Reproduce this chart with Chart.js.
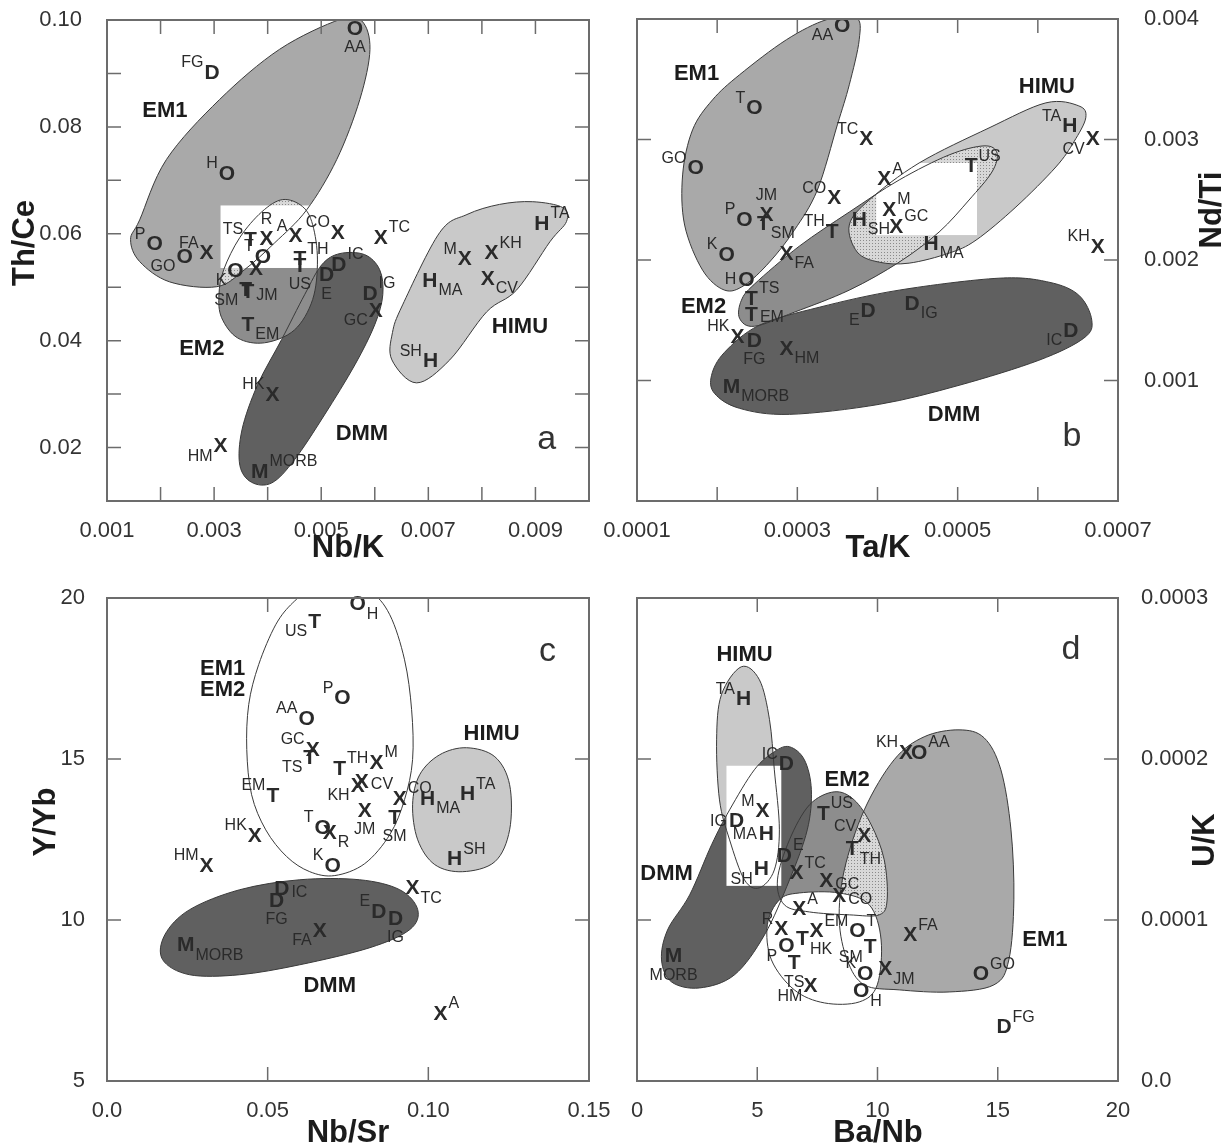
<!DOCTYPE html>
<html>
<head>
<meta charset="utf-8">
<title>Mantle end-member ratio diagrams</title>
<script src="https://cdn.jsdelivr.net/npm/chart.js@4.4.1/dist/chart.umd.min.js"></script>
<style>
  body { margin: 0; background: #fff; }
  #sheet { position: relative; width: 1225px; height: 1145px; }
  #sheet canvas { position: absolute; }
</style>
</head>
<body>
<div id="sheet">
  <canvas id="panelA" width="612" height="575" style="left:0;top:0"></canvas>
  <canvas id="panelB" width="665" height="575" style="left:560px;top:0"></canvas>
  <canvas id="panelC" width="612" height="570" style="left:0;top:575px"></canvas>
  <canvas id="panelD" width="665" height="570" style="left:560px;top:575px"></canvas>
</div>
<script>
// ---- panel a : Th/Ce vs Nb/K ----
const aXTicks = [0.001, 0.003, 0.005, 0.007, 0.009];
const aXLabels = ['0.001', '0.003', '0.005', '0.007', '0.009'];
const aYTicks = [0.02, 0.04, 0.06, 0.08, 0.10];
const aYLabels = ['0.02', '0.04', '0.06', '0.08', '0.10'];
// [marker, locality, Nb/K, Th/Ce]
const aPoints = [
  ['O', 'AA', 0.00563, 0.0986], ['D', 'FG', 0.00296, 0.0904], ['O', 'H', 0.00324, 0.0715],
  ['O', 'P', 0.00189, 0.0583], ['O', 'GO', 0.00245, 0.0559], ['X', 'FA', 0.00286, 0.0566],
  ['T', 'TS', 0.00368, 0.0591], ['X', 'R', 0.00398, 0.0593], ['X', 'A', 0.00452, 0.0598],
  ['O', 'T', 0.00391, 0.0559], ['O', 'K', 0.00340, 0.0533], ['X', '', 0.00378, 0.0536],
  ['T', 'TH', 0.00460, 0.0555], ['T', 'US', 0.00460, 0.0542], ['T', 'SM', 0.00359, 0.0497],
  ['T', 'JM', 0.00363, 0.0493], ['T', 'EM', 0.00363, 0.0433], ['X', 'CO', 0.00531, 0.0604],
  ['D', 'IC', 0.00533, 0.0544], ['D', 'E', 0.00510, 0.0525], ['D', 'IG', 0.00591, 0.0491],
  ['X', 'GC', 0.00602, 0.0458], ['X', 'TC', 0.00611, 0.0595], ['X', 'M', 0.00768, 0.0555],
  ['X', 'KH', 0.00818, 0.0566], ['H', 'TA', 0.00912, 0.0621], ['H', 'MA', 0.00703, 0.0514],
  ['X', 'CV', 0.00811, 0.0518], ['H', 'SH', 0.00704, 0.0364], ['X', 'HK', 0.00409, 0.0302],
  ['X', 'HM', 0.00312, 0.0205], ['M', 'MORB', 0.00385, 0.0158]
];
const aLabelAt = 's nw nw nw sw nw nw n nw nw sw - ne s sw e se nw ne s ne sw ne nw ne ne se se nw nw sw ne'.split(' ');
const aEM1 = [[0.00144, 0.0589], [0.00161, 0.0626], [0.00211, 0.0739], [0.00310, 0.0851], [0.00422, 0.0945],
  [0.00535, 0.1001], [0.00576, 0.0998], [0.00591, 0.0945], [0.00572, 0.0851], [0.00529, 0.0739],
  [0.00473, 0.0645], [0.00413, 0.0583], [0.00357, 0.0533], [0.00305, 0.0501], [0.00217, 0.0510], [0.00161, 0.0548]];
const aEM2 = [[0.00428, 0.0664], [0.00465, 0.0651], [0.00484, 0.0617], [0.00493, 0.0551], [0.00484, 0.0477],
  [0.00450, 0.0420], [0.00394, 0.0396], [0.00344, 0.0405], [0.00314, 0.0443], [0.00309, 0.0486],
  [0.00318, 0.0533], [0.00348, 0.0593], [0.00389, 0.0641]];
const aDMM = [[0.00535, 0.0563], [0.00581, 0.0561], [0.00609, 0.0533], [0.00615, 0.0486], [0.00600, 0.0430],
  [0.00563, 0.0355], [0.00506, 0.0261], [0.00450, 0.0177], [0.00408, 0.0134], [0.00370, 0.0135],
  [0.00348, 0.0167], [0.00352, 0.0233], [0.00381, 0.0317], [0.00426, 0.0402], [0.00469, 0.0486], [0.00501, 0.0542]];
const aHIMU = [[0.00652, 0.0467], [0.00721, 0.0602], [0.00772, 0.0636], [0.00833, 0.0655], [0.00895, 0.0660],
  [0.00951, 0.0649], [0.00958, 0.0623], [0.00927, 0.0585], [0.00865, 0.0495], [0.00809, 0.0454],
  [0.00740, 0.0364], [0.00678, 0.0321], [0.00632, 0.0364], [0.00633, 0.0415]];
const aBox = [0.00312, 0.0536, 0.00492, 0.0653];
const aNotes = [['EM1', 0.00208, 0.0833], ['EM2', 0.00277, 0.0388], ['DMM', 0.00576, 0.0229], ['HIMU', 0.00871, 0.0430]];
const aTag = ['a', 0.00921, 0.0214];

// ---- panel b : Nd/Ti vs Ta/K ----
const bXTicks = [0.0001, 0.0003, 0.0005, 0.0007];
const bXLabels = ['0.0001', '0.0003', '0.0005', '0.0007'];
const bYTicks = [0.001, 0.002, 0.003, 0.004];
const bYLabels = ['0.001', '0.002', '0.003', '0.004'];
const bPoints = [
  ['O', 'AA', 0.000356, 0.003953], ['O', 'T', 0.0002465, 0.003271], ['O', 'GO', 0.0001731, 0.002772],
  ['O', 'P', 0.0002341, 0.002348], ['X', 'JM', 0.0002615, 0.002390], ['T', 'SM', 0.0002577, 0.002315],
  ['O', 'K', 0.0002117, 0.002057], ['O', 'H', 0.0002366, 0.001849], ['X', 'FA', 0.0002864, 0.002066],
  ['X', 'TC', 0.000386, 0.003013], ['X', 'CO', 0.0003461, 0.002523], ['T', 'TH', 0.0003436, 0.002248],
  ['X', 'A', 0.0004084, 0.002681], ['H', 'SH', 0.0003772, 0.002348], ['X', 'M', 0.0004146, 0.002431],
  ['X', 'GC', 0.0004233, 0.00229], ['T', 'US', 0.0005167, 0.002789], ['H', 'TA', 0.0006399, 0.003121],
  ['X', 'CV', 0.0006685, 0.003013], ['H', 'MA', 0.0004669, 0.002149], ['X', 'KH', 0.0006748, 0.002124],
  ['T', 'TS', 0.0002428, 0.001691], ['T', 'EM', 0.0002428, 0.001558], ['X', 'HK', 0.0002254, 0.001376],
  ['D', 'FG', 0.0002465, 0.001342], ['X', 'HM', 0.0002864, 0.001276], ['M', 'MORB', 0.0002179, 0.00096],
  ['D', 'E', 0.0003884, 0.001592], ['D', 'IG', 0.0004432, 0.00165], ['D', 'IC', 0.0006412, 0.001425]
];
const bLabelAt = 'sw nw nw nw n se nw w se nw nw nw ne se ne ne ne nw sw se nw ne e nw s se se sw se sw'.split(' ');
const bEM1 = [[0.0003362, 0.003994], [0.0003735, 0.004011], [0.0003772, 0.003828], [0.0003648, 0.003454],
  [0.0003499, 0.003121], [0.000325, 0.002581], [0.0002963, 0.002248], [0.0002652, 0.001982], [0.0002341, 0.001791],
  [0.0002092, 0.00175], [0.0001818, 0.001916], [0.0001594, 0.00229], [0.0001569, 0.002706], [0.0001693, 0.00308],
  [0.0001942, 0.003329], [0.0002279, 0.003537], [0.0002864, 0.003828]];
const bHIMU = [[0.0003648, 0.00229], [0.0003897, 0.002498], [0.0004519, 0.002805], [0.0005391, 0.003096],
  [0.00061, 0.003304], [0.0006511, 0.003279], [0.0006598, 0.00318], [0.0006449, 0.00298], [0.0006225, 0.002772],
  [0.0005727, 0.00244], [0.0005229, 0.002165], [0.0004893, 0.002057], [0.0004395, 0.001974], [0.0004021, 0.001982],
  [0.0003747, 0.002066]];
const bEM2 = [[0.0002303, 0.001667], [0.0002465, 0.0018], [0.0003025, 0.002115], [0.0003648, 0.002398],
  [0.000427, 0.002664], [0.0004893, 0.002872], [0.0005329, 0.002947], [0.000549, 0.002889], [0.0005428, 0.002731],
  [0.0005142, 0.002498], [0.0004768, 0.002232], [0.000427, 0.001982], [0.0003648, 0.00175], [0.0002963, 0.001567],
  [0.0002465, 0.00145], [0.0002279, 0.001517]];
const bDMM = [[0.000193, 0.001043], [0.0002092, 0.001234], [0.0002527, 0.001459], [0.0003274, 0.001608],
  [0.000427, 0.00175], [0.0005515, 0.001849], [0.0006138, 0.001816], [0.0006511, 0.001708], [0.0006673, 0.0015],
  [0.0006573, 0.001351], [0.0006013, 0.001168], [0.0005017, 0.00096], [0.0004021, 0.000802], [0.0002901, 0.000719],
  [0.0002279, 0.000769], [0.0001967, 0.000893]];
const bBox = [0.0003984, 0.002207, 0.0005241, 0.002805];
const bNotes = [['EM1', 0.0001743, 0.003562], ['HIMU', 0.0006113, 0.003454], ['EM2', 0.000183, 0.001625], ['DMM', 0.0004955, 0.000727]];
const bTag = ['b', 0.0006425, 0.000528];

// ---- panel c : Y/Yb vs Nb/Sr ----
const cXTicks = [0, 0.05, 0.10, 0.15];
const cXLabels = ['0.0', '0.05', '0.10', '0.15'];
const cYTicks = [5, 10, 15, 20];
const cYLabels = ['5', '10', '15', '20'];
const cPoints = [
  ['T', 'US', 0.0646, 19.30], ['O', 'H', 0.0780, 19.85], ['O', 'AA', 0.0621, 16.28], ['O', 'P', 0.0733, 16.93],
  ['X', 'GC', 0.0640, 15.32], ['T', 'TS', 0.0631, 15.07], ['T', 'EM', 0.0516, 13.89], ['T', 'TH', 0.0724, 14.73],
  ['X', 'M', 0.0839, 14.92], ['X', 'CV', 0.0793, 14.33], ['X', 'KH', 0.0780, 14.20], ['X', 'JM', 0.0802, 13.43],
  ['X', 'CO', 0.0911, 13.80], ['T', 'SM', 0.0895, 13.21], ['O', 'T', 0.0671, 12.90], ['X', 'R', 0.0693, 12.74],
  ['O', 'K', 0.0702, 11.72], ['X', 'HK', 0.0460, 12.65], ['X', 'HM', 0.0310, 11.72], ['H', 'MA', 0.0998, 13.80],
  ['H', 'TA', 0.1122, 13.95], ['H', 'SH', 0.1082, 11.93], ['X', 'TC', 0.0951, 11.03], ['D', 'IC', 0.0544, 11.00],
  ['D', 'FG', 0.0528, 10.63], ['D', 'E', 0.0846, 10.29], ['D', 'IG', 0.0898, 10.07], ['X', 'FA', 0.0662, 9.70],
  ['M', 'MORB', 0.0245, 9.26], ['X', 'A', 0.1038, 7.12]
];
const cLabelAt = 'sw se nw nw nw sw nw ne ne e sw s ne s nw se nw nw nw se ne ne se e s nw s sw se ne'.split(' ');
const cEM = [[0.0578, 19.85], [0.0631, 20.20], [0.0724, 20.41], [0.0818, 20.20], [0.0880, 19.48], [0.0926, 18.08],
  [0.0948, 16.53], [0.0951, 14.98], [0.0926, 13.74], [0.0880, 12.65], [0.0802, 11.75], [0.0709, 11.38],
  [0.0631, 11.50], [0.0559, 11.97], [0.0494, 12.80], [0.0450, 13.89], [0.0435, 15.29], [0.0441, 16.69],
  [0.0472, 17.93], [0.0525, 19.17]];
const cHIMU = [[0.1119, 15.35], [0.1207, 15.07], [0.1253, 14.20], [0.1253, 12.80], [0.1207, 11.81], [0.1107, 11.50],
  [0.1020, 11.72], [0.0967, 12.49], [0.0951, 13.58], [0.0973, 14.51], [0.1035, 15.13]];
const cDMM = [[0.0257, 10.32], [0.0413, 10.94], [0.0600, 11.25], [0.0786, 11.25], [0.0911, 10.94], [0.0967, 10.32],
  [0.0942, 9.70], [0.0818, 9.14], [0.0600, 8.61], [0.0413, 8.30], [0.0257, 8.30], [0.0173, 8.77], [0.0180, 9.54]];
const cNotes = [['EM1', 0.0360, 17.87], ['EM2', 0.0360, 17.21], ['HIMU', 0.1197, 15.85], ['DMM', 0.0693, 8.02]];
const cTag = ['c', 0.1371, 18.33];

// ---- panel d : U/K vs Ba/Nb ----
const dXTicks = [0, 5, 10, 15, 20];
const dXLabels = ['0', '5', '10', '15', '20'];
const dYTicks = [0, 0.0001, 0.0002, 0.0003];
const dYLabels = ['0.0', '0.0001', '0.0002', '0.0003'];
const dPoints = [
  ['H', 'TA', 4.43, 0.000238], ['D', 'IC', 6.21, 0.0001976], ['X', 'M', 5.22, 0.0001684], ['D', 'IG', 4.14, 0.0001622],
  ['H', 'MA', 5.38, 0.0001541], ['D', 'E', 6.13, 0.0001405], ['H', 'SH', 5.17, 0.0001324], ['T', 'US', 7.75, 0.0001666],
  ['X', 'CV', 9.45, 0.0001529], ['T', 'TH', 8.95, 0.0001448], ['X', 'TC', 6.63, 0.0001299], ['X', 'GC', 7.87, 0.0001249],
  ['X', 'A', 6.75, 0.0001075], ['X', 'CO', 8.41, 0.0001156], ['X', 'KH', 11.19, 0.0002045], ['O', 'AA', 11.73, 0.0002045],
  ['X', 'R', 6.00, 0.0000951], ['X', 'EM', 7.46, 0.0000938], ['O', 'P', 6.21, 0.0000845], ['T', 'HK', 6.88, 0.0000889],
  ['T', 'TS', 6.54, 0.000074], ['X', 'HM', 7.21, 0.0000597], ['O', 'T', 9.16, 0.0000938], ['T', 'SM', 9.70, 0.0000839],
  ['O', 'K', 9.49, 0.0000677], ['O', 'H', 9.32, 0.0000566], ['X', 'JM', 10.32, 0.0000702], ['X', 'FA', 11.36, 0.0000914],
  ['O', 'GO', 14.30, 0.0000671], ['D', 'FG', 15.26, 0.0000342], ['M', 'MORB', 1.52, 0.0000783]
];
const dLabelAt = 'nw nw nw w w ne sw ne nw se ne e ne e nw ne nw ne sw se s sw ne sw nw se se ne ne ne s'.split(' ');
const dEM1 = [[13.39, 0.0002181], [14.43, 0.0002132], [15.13, 0.0001933], [15.55, 0.000156], [15.67, 0.0001125],
  [15.46, 0.0000752], [14.84, 0.0000597], [12.98, 0.0000553], [10.90, 0.0000566], [9.45, 0.0000597], [8.74, 0.0000752],
  [8.41, 0.0001001], [8.62, 0.0001311], [9.45, 0.0001684], [10.69, 0.0001995], [11.94, 0.0002138]];
const dEM2 = [[8.20, 0.0001796], [9.03, 0.0001746], [9.74, 0.0001591], [10.28, 0.0001374], [10.40, 0.0001125],
  [10.07, 0.0001032], [8.83, 0.0001032], [7.17, 0.000105], [6.13, 0.0001094], [5.84, 0.0001249], [6.34, 0.0001498],
  [7.17, 0.0001715]];
const dHIMU = [[4.34, 0.0002573], [5.09, 0.0002492], [5.51, 0.0002244], [5.71, 0.0001933], [5.92, 0.000156],
  [5.71, 0.0001311], [5.09, 0.00012], [4.47, 0.0001249], [3.85, 0.0001498], [3.43, 0.0001746], [3.31, 0.0002119],
  [3.51, 0.0002399]];
const dDMM = [[6.34, 0.0002076], [6.96, 0.0001995], [7.25, 0.0001809], [7.08, 0.000156], [6.34, 0.0001249],
  [5.30, 0.0000907], [4.05, 0.0000659], [2.60, 0.0000578], [1.44, 0.0000615], [1.02, 0.0000752], [1.27, 0.0000938],
  [2.19, 0.0001156], [3.10, 0.0001467], [3.85, 0.0001684], [4.88, 0.0001933], [5.71, 0.0002045]];
const dWhite = [[6.75, 0.0001168], [8.41, 0.0001168], [9.66, 0.0001094], [10.15, 0.0000876], [9.99, 0.0000597],
  [9.24, 0.0000491], [7.79, 0.0000485], [6.54, 0.0000566], [5.59, 0.0000752], [5.42, 0.000097], [5.92, 0.0001125]];
const dBox = [3.72, 0.0001212, 6.00, 0.0001958];
const dNotes = [['HIMU', 4.47, 0.000266], ['EM2', 8.74, 0.0001883], ['DMM', 1.23, 0.0001299], ['EM1', 16.96, 0.0000889]];
const dTag = ['d', 18.04, 0.000268];

// ---- drawing helpers ----
const FACE = '"Liberation Sans", Arial, sans-serif';
const font = (size, bold) => (bold ? 'bold ' : '') + size + 'px ' + FACE;
Chart.defaults.font.family = FACE;
Chart.defaults.color = '#333';

const GREY = { em1: '#a9a9a9', em2: '#8d8d8d', dmm: '#606060', himu: '#c9c9c9', white: '#ffffff' };

function toPx(chart, pts) {
  const sx = chart.scales.x, sy = chart.scales.y;
  return pts.map(p => [sx.getPixelForValue(p[0]), sy.getPixelForValue(p[1])]);
}

// closed catmull-rom outline through the field vertices
function loop(ctx, chart, pts) {
  const p = toPx(chart, pts);
  const n = p.length;
  ctx.beginPath();
  ctx.moveTo(p[0][0], p[0][1]);
  for (let i = 0; i < n; i++) {
    const p0 = p[(i - 1 + n) % n], p1 = p[i], p2 = p[(i + 1) % n], p3 = p[(i + 2) % n];
    ctx.bezierCurveTo(
      p1[0] + (p2[0] - p0[0]) / 6, p1[1] + (p2[1] - p0[1]) / 6,
      p2[0] - (p3[0] - p1[0]) / 6, p2[1] - (p3[1] - p1[1]) / 6,
      p2[0], p2[1]);
  }
  ctx.closePath();
}

function dotPattern(ctx) {
  const c = document.createElement('canvas');
  c.width = c.height = 3;
  const g = c.getContext('2d');
  g.fillStyle = '#d8d8d8';
  g.fillRect(0, 0, 3, 3);
  g.fillStyle = '#8a8a8a';
  g.fillRect(0, 0, 1, 1);
  return ctx.createPattern(c, 'repeat');
}

function tickText(vals, labels) {
  return v => {
    const i = vals.findIndex(t => Math.abs(t - v) <= Math.abs(t) * 1e-6 + 1e-12);
    return i < 0 ? '' : labels[i];
  };
}

function labelCentre(at, x, y, mw, lw) {
  const g = mw / 2 + 1;
  switch (at) {
    case 'n': return [x, y - 19];
    case 's': return [x, y + 19];
    case 'e': return [x + g + lw / 2 + 1, y + 3];
    case 'w': return [x - g - lw / 2 - 1, y];
    case 'ne': return [x + g + lw / 2, y - 10];
    case 'nw': return [x - g - lw / 2, y - 10];
    case 'se': return [x + g + lw / 2, y + 10];
    default: return [x - g - lw / 2, y + 10];
  }
}

function panel(id, cfg) {
  const fields = {
    id: 'fields',
    beforeDatasetsDraw(chart) {
      const { ctx, chartArea: a } = chart;
      ctx.save();
      ctx.beginPath();
      ctx.rect(a.left, a.top, a.width, a.height);
      ctx.clip();
      for (const op of cfg.layers) {
        if (op.box) {
          const sx = chart.scales.x, sy = chart.scales.y;
          const x0 = sx.getPixelForValue(op.box[0]), y0 = sy.getPixelForValue(op.box[1]);
          const x1 = sx.getPixelForValue(op.box[2]), y1 = sy.getPixelForValue(op.box[3]);
          ctx.fillStyle = '#fff';
          ctx.fillRect(x0, y1, x1 - x0, y0 - y1);
        } else if (op.overlap) {
          ctx.save();
          loop(ctx, chart, op.overlap[0]);
          ctx.clip();
          loop(ctx, chart, op.overlap[1]);
          ctx.fillStyle = dotPattern(ctx);
          ctx.fill();
          ctx.restore();
        } else {
          loop(ctx, chart, op.shape);
          ctx.fillStyle = op.fill;
          ctx.fill();
        }
      }
      ctx.strokeStyle = '#3a3a3a';
      ctx.lineWidth = 1;
      for (const op of cfg.layers) {
        if (!op.shape) continue;
        loop(ctx, chart, op.shape);
        ctx.stroke();
      }
      ctx.restore();
    }
  };

  const marks = {
    id: 'marks',
    afterDatasetsDraw(chart) {
      const { ctx } = chart;
      const sx = chart.scales.x, sy = chart.scales.y;
      const meta = chart.getDatasetMeta(0);
      ctx.save();
      ctx.fillStyle = '#2a2a2a';
      ctx.textAlign = 'center';
      ctx.textBaseline = 'alphabetic';
      meta.data.forEach((el, i) => {
        const [mark, name] = cfg.points[i];
        ctx.font = font(21, true);
        const mw = ctx.measureText(mark).width;
        ctx.fillText(mark, el.x, el.y + 7.5);
        if (!name) return;
        ctx.font = font(16);
        const lw = ctx.measureText(name).width;
        const [lx, ly] = labelCentre(cfg.labelAt[i], el.x, el.y, mw, lw);
        ctx.fillText(name, lx, ly + 5.7);
      });
      ctx.fillStyle = '#1c1c1c';
      ctx.font = font(22, true);
      cfg.notes.forEach(([txt, x, y]) => {
        ctx.fillText(txt, sx.getPixelForValue(x), sy.getPixelForValue(y) + 8);
      });
      ctx.fillStyle = '#333';
      ctx.font = font(34);
      ctx.fillText(cfg.tag[0], sx.getPixelForValue(cfg.tag[1]), sy.getPixelForValue(cfg.tag[2]) + 9);
      ctx.restore();
    }
  };

  const frame = {
    id: 'frame',
    afterDraw(chart) {
      const { ctx, chartArea: a } = chart;
      const sx = chart.scales.x, sy = chart.scales.y;
      ctx.save();
      ctx.strokeStyle = '#6c6c6c';
      ctx.lineWidth = 1.5;
      ctx.beginPath();
      sx.ticks.forEach(t => {
        const p = sx.getPixelForValue(t.value);
        if (p < a.left + 3 || p > a.right - 3) return;
        ctx.moveTo(p, a.bottom); ctx.lineTo(p, a.bottom - 14);
        ctx.moveTo(p, a.top); ctx.lineTo(p, a.top + 14);
      });
      sy.ticks.forEach(t => {
        const p = sy.getPixelForValue(t.value);
        if (p < a.top + 3 || p > a.bottom - 3) return;
        ctx.moveTo(a.left, p); ctx.lineTo(a.left + 14, p);
        ctx.moveTo(a.right, p); ctx.lineTo(a.right - 14, p);
      });
      ctx.stroke();
      ctx.lineWidth = 2;
      ctx.strokeRect(a.left, a.top, a.width, a.height);
      ctx.fillStyle = '#1c1c1c';
      ctx.font = font(31, true);
      ctx.textAlign = 'center';
      ctx.textBaseline = 'middle';
      cfg.titles.forEach(t => {
        ctx.save();
        ctx.translate(t.x, t.y);
        if (t.turn) ctx.rotate(-Math.PI / 2);
        ctx.fillText(t.text, 0, 0);
        ctx.restore();
      });
      ctx.restore();
    }
  };

  return new Chart(document.getElementById(id), {
    type: 'scatter',
    data: {
      datasets: [{
        data: cfg.points.map(p => ({ x: p[2], y: p[3] })),
        pointRadius: 0,
        pointHoverRadius: 0
      }]
    },
    options: {
      responsive: false,
      animation: false,
      events: [],
      layout: { padding: cfg.padding },
      plugins: { legend: { display: false }, tooltip: { enabled: false } },
      scales: {
        x: {
          type: 'linear', position: 'bottom',
          min: cfg.x.min, max: cfg.x.max,
          grid: { display: false }, border: { display: false },
          ticks: {
            stepSize: cfg.x.step, autoSkip: false, maxRotation: 0, padding: 9,
            font: { size: 22 }, color: '#333',
            callback: tickText(cfg.x.ticks, cfg.x.labels)
          },
          afterFit: s => { s.height = cfg.x.band; s.paddingLeft = 0; s.paddingRight = 0; }
        },
        y: {
          type: 'linear', position: cfg.y.side,
          min: cfg.y.min, max: cfg.y.max,
          grid: { display: false }, border: { display: false },
          ticks: {
            stepSize: cfg.y.step, autoSkip: false, padding: cfg.y.pad,
            font: { size: 22 }, color: '#333',
            callback: tickText(cfg.y.ticks, cfg.y.labels)
          },
          afterFit: s => { s.width = 107; s.paddingTop = 0; s.paddingBottom = 0; }
        }
      }
    },
    plugins: [fields, marks, frame]
  });
}

panel('panelA', {
  points: aPoints, labelAt: aLabelAt, notes: aNotes, tag: aTag,
  padding: { left: 0, top: 20, right: 23, bottom: 0 },
  x: { min: 0.001, max: 0.010, step: 0.001, ticks: aXTicks, labels: aXLabels, band: 74 },
  y: { min: 0.01, max: 0.10, step: 0.01, ticks: aYTicks, labels: aYLabels, side: 'left', pad: 17 },
  layers: [
    { shape: aEM1, fill: GREY.em1 }, { shape: aHIMU, fill: GREY.himu },
    { shape: aDMM, fill: GREY.dmm }, { shape: aEM2, fill: GREY.em2 },
    { overlap: [aEM1, aEM2] }, { box: aBox }
  ],
  titles: [{ text: 'Th/Ce', x: 25, y: 243, turn: true }, { text: 'Nb/K', x: 348, y: 548 }]
});

panel('panelB', {
  points: bPoints, labelAt: bLabelAt, notes: bNotes, tag: bTag,
  padding: { left: 77, top: 19, right: 0, bottom: 0 },
  x: { min: 0.0001, max: 0.0007, step: 0.0001, ticks: bXTicks, labels: bXLabels, band: 74 },
  y: { min: 0, max: 0.004, step: 0.001, ticks: bYTicks, labels: bYLabels, side: 'right', pad: 18 },
  layers: [
    { shape: bEM1, fill: GREY.em1 }, { shape: bHIMU, fill: GREY.himu },
    { shape: bDMM, fill: GREY.dmm }, { shape: bEM2, fill: GREY.em2 },
    { overlap: [bHIMU, bEM2] }, { box: bBox }
  ],
  titles: [{ text: 'Ta/K', x: 318, y: 548 }, { text: 'Nd/Ti', x: 652, y: 210, turn: true }]
});

panel('panelC', {
  points: cPoints, labelAt: cLabelAt, notes: cNotes, tag: cTag,
  padding: { left: 0, top: 23, right: 23, bottom: 0 },
  x: { min: 0, max: 0.15, step: 0.05, ticks: cXTicks, labels: cXLabels, band: 64 },
  y: { min: 5, max: 20, step: 5, ticks: cYTicks, labels: cYLabels, side: 'left', pad: 14 },
  layers: [
    { shape: cEM, fill: GREY.white }, { shape: cHIMU, fill: GREY.himu }, { shape: cDMM, fill: GREY.dmm }
  ],
  titles: [{ text: 'Y/Yb', x: 46, y: 247, turn: true }, { text: 'Nb/Sr', x: 348, y: 558 }]
});

panel('panelD', {
  points: dPoints, labelAt: dLabelAt, notes: dNotes, tag: dTag,
  padding: { left: 77, top: 23, right: 0, bottom: 0 },
  x: { min: 0, max: 20, step: 5, ticks: dXTicks, labels: dXLabels, band: 64 },
  y: { min: 0, max: 0.0003, step: 0.0001, ticks: dYTicks, labels: dYLabels, side: 'right', pad: 15 },
  layers: [
    { shape: dEM1, fill: GREY.em1 }, { shape: dEM2, fill: GREY.em2 },
    { overlap: [dEM1, dEM2] }, { shape: dHIMU, fill: GREY.himu },
    { shape: dDMM, fill: GREY.dmm }, { box: dBox }, { shape: dWhite, fill: GREY.white }
  ],
  titles: [{ text: 'Ba/Nb', x: 318, y: 558 }, { text: 'U/K', x: 645, y: 265, turn: true }]
});
</script>
</body>
</html>
